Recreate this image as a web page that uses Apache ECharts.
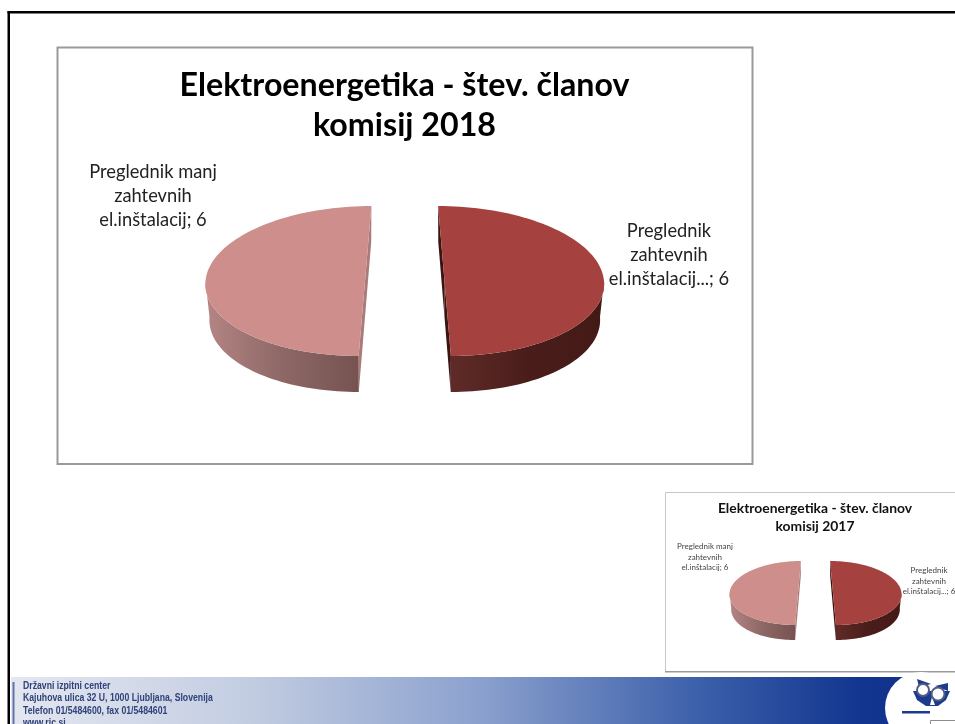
<!DOCTYPE html>
<html>
<head>
<meta charset="utf-8">
<title>Elektroenergetika - štev. članov komisij</title>
<script src="https://cdn.jsdelivr.net/npm/echarts@6/dist/echarts.min.js"></script>
<style>
  html, body { margin: 0; padding: 0; background: #fff; overflow: hidden; }
  #chart { width: 955px; height: 724px; }
</style>
</head>
<body>
<div id="chart"></div>
<script>
// podatki
const categories = ['Preglednik\nzahtevnih\nel.inštalacij...', 'Preglednik manj\nzahtevnih\nel.inštalacij'];
const values2018 = [6, 6];
const values2017 = [6, 6];
const title2018 = 'Elektroenergetika - štev. članov\nkomisij 2018';
const title2017 = 'Elektroenergetika - štev. članov\nkomisij 2017';
const footerLines = [
    'Državni izpitni center',
    'Kajuhova ulica 32 U, 1000 Ljubljana, Slovenija',
    'Telefon 01/5484600, fax 01/5484601',
    'www.ric.si'
];

// barve
const topColors = ['#a5423f', '#cd8e8c'];
const wallColors = [['#5f2b28', '#4a1d1a', '#431916'], ['#b58585', '#8d6866', '#765350']];
const cutColors = ['#3a1411', '#a97b7a'];
const FONT = 'Lato, "Noto Sans", sans-serif';

function arc(p, from, to) {
    const pts = [];
    const steps = Math.max(2, Math.ceil(Math.abs(to - from) / 2));
    for (let i = 0; i <= steps; i++) {
        pts.push(p(from + (to - from) * i / steps));
    }
    return pts;
}

function pieSeries(values, geo) {
    const total = values.reduce((a, b) => a + b, 0);
    return {
        type: 'custom',
        coordinateSystem: 'none',
        data: values.map((v, i) => [v, i]),
        renderItem(params, api) {
            const idx = api.value(1);
            let start = -90;
            for (let i = 0; i < idx; i++) start += values[i] / total * 360;
            const end = start + api.value(0) / total * 360;
            const mid = (start + end) / 2 * Math.PI / 180;
            // razmaknjen izsek + rahla perspektiva
            const cx = geo.cx + geo.explode * Math.cos(mid);
            const shear = geo.shear * Math.cos(mid);
            const rim = deg => {
                const t = deg * Math.PI / 180;
                const dy = geo.ry * Math.sin(t);
                return [cx + geo.rx * Math.cos(t) + shear * dy, geo.cy + dy];
            };
            // spodnja elipsa je malo ozja
            const down = pt => [cx + (pt[0] - cx) * 0.975, pt[1] + geo.depth];
            const centre = [cx, geo.cy];
            const children = [];

            // rezni steni
            [start, end].forEach(a => {
                const p = rim(a);
                children.push({
                    type: 'polygon',
                    shape: { points: [centre, p, down(p), down(centre)] },
                    style: { fill: cutColors[idx] }
                });
            });

            // zunanja stena (samo sprednja polovica)
            const a0 = Math.max(start, 0);
            const a1 = Math.min(end, 180);
            if (a1 > a0) {
                const top = arc(rim, a0, a1);
                const xs = top.map(q => q[0]);
                children.push({
                    type: 'polygon',
                    shape: { points: top.concat(top.slice().reverse().map(down)) },
                    style: {
                        fill: new echarts.graphic.LinearGradient(
                            Math.min(...xs), 0, Math.max(...xs), 0,
                            [
                                { offset: 0, color: wallColors[idx][0] },
                                { offset: 0.5, color: wallColors[idx][1] },
                                { offset: 1, color: wallColors[idx][2] }
                            ],
                            true
                        )
                    }
                });
            }

            // zgornja ploskev
            children.push({
                type: 'polygon',
                shape: { points: arc(rim, start, end) },
                style: { fill: topColors[idx] }
            });

            // oznaka
            children.push({
                type: 'text',
                style: {
                    text: categories[idx] + '; ' + api.value(0),
                    x: geo.labels[idx][0],
                    y: geo.labels[idx][1],
                    align: 'center',
                    verticalAlign: 'middle',
                    font: geo.labelSize + 'px ' + FONT,
                    lineHeight: geo.labelLine,
                    fill: geo.labelColor
                }
            });
            return { type: 'group', children };
        }
    };
}

const logoColor = '#1c3a8e';

const chart = echarts.init(document.getElementById('chart'), null, { renderer: 'canvas' });
chart.setOption({
    animation: false,
    backgroundColor: '#fff',
    title: [
        {
            text: title2018, left: 404.5, top: 66, padding: 0, textAlign: 'center',
            textStyle: { fontFamily: FONT, fontWeight: 'bold', fontSize: 32.2, lineHeight: 40, color: '#000' }
        },
        {
            text: title2017, left: 815, top: 500, padding: 0, textAlign: 'center',
            textStyle: { fontFamily: FONT, fontWeight: 'bold', fontSize: 13.9, lineHeight: 18, color: '#111' }
        }
    ],
    graphic: [
        // okvir prosojnice
        { type: 'rect', z: -10, shape: { x: 7.5, y: 11, width: 948, height: 2.5 }, style: { fill: '#000' } },
        { type: 'rect', z: -10, shape: { x: 7.5, y: 11, width: 2.5, height: 713 }, style: { fill: '#000' } },
        // okvirja grafikonov
        { type: 'rect', z: -9, shape: { x: 57.5, y: 47.5, width: 695, height: 416.5 }, style: { fill: '#fff', stroke: '#9a9a9a', lineWidth: 2 } },
        { type: 'rect', z: -9, shape: { x: 665.5, y: 492.5, width: 300, height: 179 }, style: { fill: '#fff', stroke: '#c8c8c8', lineWidth: 1 } },
        { type: 'rect', z: -9, shape: { x: 665, y: 671, width: 290, height: 1.5 }, style: { fill: '#999' } },
        // noga
        {
            type: 'rect', z: -8, shape: { x: 11, y: 677, width: 944, height: 47 },
            style: {
                fill: new echarts.graphic.LinearGradient(0, 0, 1, 0, [
                    { offset: 0, color: '#e4e7f0' },
                    { offset: 0.25, color: '#c3cde2' },
                    { offset: 0.5, color: '#8aa0cd' },
                    { offset: 0.72, color: '#3f62ac' },
                    { offset: 0.9, color: '#12358f' },
                    { offset: 1, color: '#0f2f8a' }
                ])
            }
        },
        { type: 'rect', z: -7, shape: { x: 12.5, y: 682, width: 2, height: 42 }, style: { fill: '#5f73a8' } },
        { type: 'circle', z: -7, shape: { cx: 921, cy: 708, r: 36 }, style: { fill: '#fff' } },
        { type: 'rect', z: -7, shape: { x: 921, y: 673, width: 34, height: 51 }, style: { fill: '#fff' } },
        // sova
        { type: 'polygon', z: -6, shape: { points: [[913, 691], [950, 691], [946, 700], [938, 706], [926, 706], [917, 700]] }, style: { fill: logoColor } },
        { type: 'polygon', z: -6, shape: { points: [[930, 705], [932, 697], [935, 705]] }, style: { fill: '#fff' } },
        { type: 'polygon', z: -6, shape: { points: [[917, 679], [931, 684], [919, 687]] }, style: { fill: logoColor } },
        { type: 'polygon', z: -6, shape: { points: [[948, 683], [935, 686], [948, 691]] }, style: { fill: logoColor } },
        { type: 'circle', z: -6, shape: { cx: 923, cy: 690, r: 6 }, style: { fill: '#fff', stroke: '#4f5c86', lineWidth: 2 } },
        { type: 'circle', z: -6, shape: { cx: 938, cy: 694, r: 6.5 }, style: { fill: '#fff', stroke: '#4f5c86', lineWidth: 2 } },
        { type: 'rect', z: -6, shape: { x: 902, y: 711, width: 28, height: 2.5 }, style: { fill: logoColor } },
        { type: 'rect', z: -6, shape: { x: 930.5, y: 720.5, width: 30, height: 10 }, style: { fill: '#fff', stroke: '#8c8c8c', lineWidth: 1 } },
        // besedilo v nogi
        ...footerLines.map((line, i) => ({
            type: 'text', z: -5,
            x: 23, y: 686 + i * 12.4, scaleX: 0.79,
            style: {
                text: line,
                verticalAlign: 'middle',
                font: 'bold 11px "Liberation Sans", sans-serif',
                fill: '#2f4279'
            }
        }))
    ],
    series: [
        pieSeries(values2018, {
            cx: 404.75, cy: 281, rx: 159.5, ry: 75, depth: 36, explode: 39.75, shear: 0.085,
            labels: [[669, 255], [153, 196]], labelSize: 18.3, labelLine: 24.2, labelColor: '#222'
        }),
        pieSeries(values2017, {
            cx: 815.5, cy: 593, rx: 68.5, ry: 32, depth: 15, explode: 17.5, shear: 0.09,
            labels: [[929, 581], [705, 557]], labelSize: 8, labelLine: 10.5, labelColor: '#444'
        })
    ]
});
</script>
</body>
</html>
